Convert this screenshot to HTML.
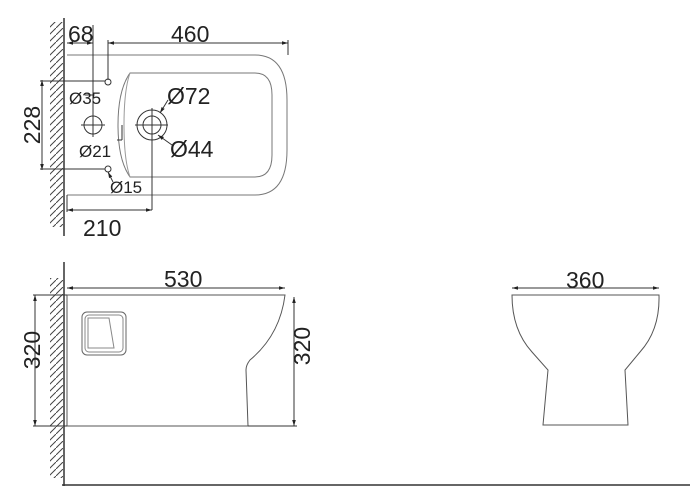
<!DOCTYPE html>
<html><head><style>body{margin:0;background:#fff}svg{display:block}text{font-family:"Liberation Sans",sans-serif;fill:#222}</style></head><body>
<svg width="693" height="495" viewBox="0 0 693 495" xmlns="http://www.w3.org/2000/svg">
<defs>
<pattern id="h" width="7" height="7" patternUnits="userSpaceOnUse"><path d="M0 7L7 0" stroke="#444" stroke-width="1"/></pattern>
<marker id="a" viewBox="0 0 10 10" refX="10" refY="5" markerWidth="6" markerHeight="6" orient="auto-start-reverse"><path d="M0 2L10 5L0 8z" fill="#222"/></marker>
</defs>
<g fill="none" stroke="#333" stroke-width="1">
<rect x="50" y="22" width="13" height="205" fill="url(#h)" stroke="none"/>
<line x1="64" y1="18" x2="64" y2="236" stroke-width="1.5"/>
<path d="M67 55H255Q287 55 287 100V150Q287 195 255 195H67" stroke="#777"/>
<path d="M130 73H255Q272 73 272 95V155Q272 177 255 177H130Q118 160 118 125Q118 90 130 73Z" stroke="#777"/>
<path d="M130 73Q124 90 124 125Q124 160 130 177" stroke="#999"/>
<line x1="67" y1="43" x2="93" y2="43" marker-start="url(#a)" marker-end="url(#a)"/>
<line x1="108" y1="43" x2="288" y2="43" marker-start="url(#a)" marker-end="url(#a)"/>
<line x1="93" y1="25" x2="93" y2="125"/>
<line x1="108" y1="40" x2="108" y2="80"/>
<line x1="288" y1="40" x2="288" y2="55"/>
<circle cx="108" cy="82" r="3"/><circle cx="108" cy="169" r="3"/>
<line x1="42" y1="80" x2="42" y2="170" marker-start="url(#a)" marker-end="url(#a)"/>
<line x1="40" y1="81" x2="105" y2="81"/><line x1="40" y1="169" x2="105" y2="169"/>
<circle cx="93" cy="125" r="9"/><line x1="81" y1="125" x2="105" y2="125"/><line x1="93" y1="113" x2="93" y2="137"/>
<circle cx="152" cy="125" r="15"/><circle cx="152" cy="125" r="9"/>
<line x1="135" y1="125" x2="168" y2="125"/><line x1="152" y1="108" x2="152" y2="210"/>
<line x1="67" y1="210" x2="152" y2="210" marker-start="url(#a)" marker-end="url(#a)"/>
<line x1="67" y1="195" x2="67" y2="212"/>
<path d="M168 100L160 113" marker-end="url(#a)"/><path d="M172 145L158 135" marker-end="url(#a)"/>
<path d="M113 182L108 172" marker-end="url(#a)"/>
<path d="M85 95L93 95" /><path d="M117 140L122 140M122 125L122 140" />
<rect x="50" y="278" width="13" height="200" fill="url(#h)" stroke="none"/>
<line x1="64" y1="262" x2="64" y2="486" stroke-width="1.5"/>
<line x1="62" y1="485" x2="690" y2="485" stroke-width="1.5"/>
<path d="M67 295H285Q280 335 250 360Q246 365 246 370L248 426H67Z" stroke="#555"/>
<line x1="67" y1="288" x2="285" y2="288" marker-start="url(#a)" marker-end="url(#a)"/>
<line x1="35" y1="295" x2="35" y2="426" marker-start="url(#a)" marker-end="url(#a)"/>
<line x1="33" y1="295" x2="67" y2="295"/><line x1="33" y1="426" x2="67" y2="426"/>
<line x1="294" y1="297" x2="294" y2="426" marker-start="url(#a)" marker-end="url(#a)"/>
<line x1="248" y1="426" x2="297" y2="426"/>
<rect x="82" y="312" width="44" height="43" rx="5" stroke="#666"/>
<rect x="85" y="315" width="38" height="37" rx="4" stroke="#888"/>
<path d="M88 318H109L114 348H88Z" stroke="#888"/>
<path d="M512 295H659Q660 330 640 352L625 370L628 425H543L548 370L532 352Q512 330 512 295Z" stroke="#555"/>
<line x1="512" y1="288" x2="659" y2="288" marker-start="url(#a)" marker-end="url(#a)"/>
</g>
<g font-size="23">
<text x="68" y="42">68</text>
<text x="171" y="42">460</text>
<text x="83" y="236">210</text>
<text x="164" y="287">530</text>
<text x="566" y="288">360</text>
<text transform="translate(40,125) rotate(-90)" text-anchor="middle">228</text>
<text transform="translate(40,350) rotate(-90)" text-anchor="middle">320</text>
<text transform="translate(310,346) rotate(-90)" text-anchor="middle">320</text>
<text x="167" y="104">Ø72</text>
<text x="170" y="157">Ø44</text>
</g>
<g font-size="17">
<text x="69" y="104">Ø35</text>
<text x="79" y="157">Ø21</text>
<text x="110" y="193">Ø15</text>
</g>
</svg>
</body></html>
